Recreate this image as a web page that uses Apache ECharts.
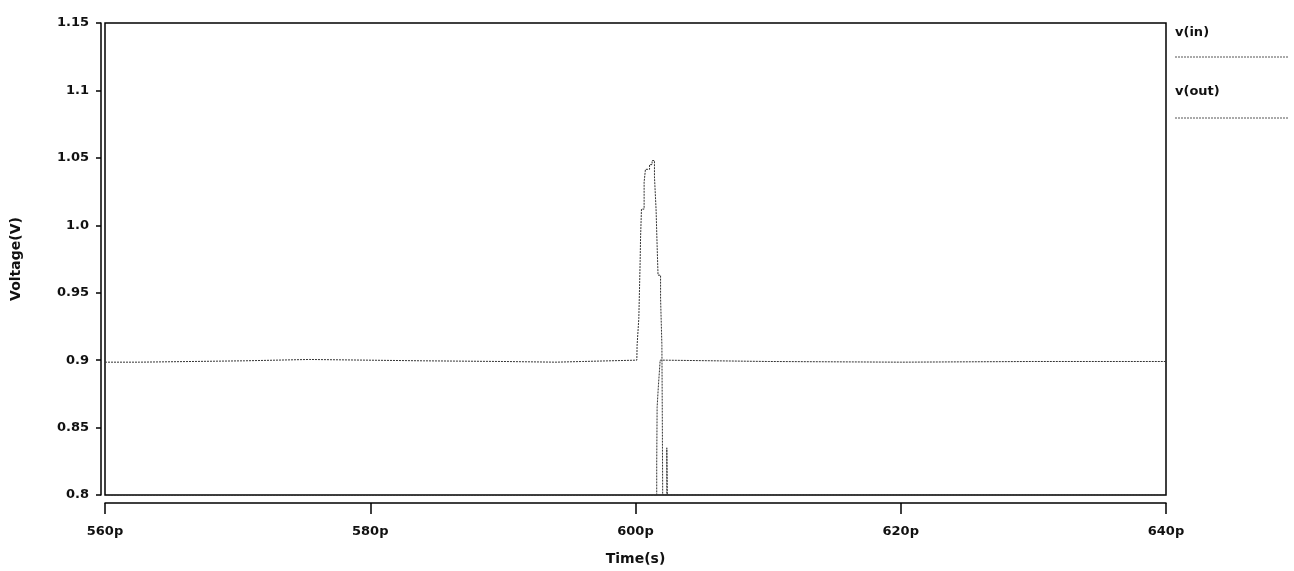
<!DOCTYPE html>
<html>
<head>
<meta charset="utf-8">
<script src="https://cdn.jsdelivr.net/npm/echarts@6/dist/echarts.min.js"></script>
<style>
  html, body { margin: 0; padding: 0; background: #fff; }
  #chart { width: 1294px; height: 571px; }
</style>
</head>
<body>
<div id="chart"></div>
<script>
// transient sim: v(in) / v(out), time in ps
const inTime = [560, 562.6, 570.5, 575.4, 584, 590, 594, 596, 600.1,
  600.12, 600.25, 600.3, 600.35, 600.38, 600.45, 600.65, 600.75, 601.06, 601.25,
  601.43, 601.55, 601.63, 601.7, 601.89, 601.99, 602.02, 602.05, 602.36, 602.4, 640];
const inVolt = [0.8985, 0.8995, 0.9005, 0.8995, 0.899, 0.8985, 0.899, 0.9, 0.9,
  0.911, 0.931, 0.952, 0.973, 0.99, 1.012, 1.032, 1.0415, 1.045, 1.048,
  1.036, 1.012, 0.985, 0.963, 0.946, 0.911, 0.86, 0.8, 0.835, 0.8, 0.8];

const outTime = [560, 601.6, 601.63, 601.72, 601.86, 602.03, 602.1, 610, 620, 630, 640];
const outVolt = [0.7995, 0.823, 0.865, 0.88, 0.9, 0.899, 0.899, 0.8985, 0.899, 0.899, 0.899];

const seriesNames = ['v(in)', 'v(out)'];

const FONT = 'DejaVu Sans';
const pairs = (xs, ys) => xs.map((x, i) => [x, ys[i]]);

// 1.10 -> 1.1, 1.00 -> 1.0, 0.80 -> 0.8
const fmtVolt = v => {
  let s = v.toFixed(2);
  if (s.endsWith('0')) s = s.slice(0, -1);
  return s;
};

const labelFont = { fontFamily: FONT, fontSize: 13, fontWeight: 'bold', color: '#111' };
const nameFont = { fontFamily: FONT, fontSize: 14, fontWeight: 'bold', color: '#111' };
const traceStyle = { color: '#333', width: 1, type: [2, 1] };

const chart = echarts.init(document.getElementById('chart'));
chart.setOption({
  animation: false,
  backgroundColor: '#fff',
  grid: {
    left: 105, right: 128, top: 23, bottom: 72,
    show: true, borderColor: '#000', borderWidth: 1.5
  },
  xAxis: {
    type: 'value', min: 560, max: 640, interval: 20,
    offset: 8,
    name: 'Time(s)', nameLocation: 'middle', nameGap: 49,
    nameTextStyle: nameFont,
    axisLine: { show: true, lineStyle: { color: '#000', width: 1.5 } },
    axisTick: { show: true, inside: false, length: 11, lineStyle: { color: '#000', width: 1.5 } },
    axisLabel: Object.assign({ formatter: v => v + 'p', margin: 22 }, labelFont),
    splitLine: { show: false }
  },
  yAxis: {
    type: 'value', min: 0.8, max: 1.15, interval: 0.05,
    offset: 4,
    name: 'Voltage(V)', nameLocation: 'middle', nameGap: 78,
    nameTextStyle: nameFont,
    axisLine: { show: true, lineStyle: { color: '#000', width: 1.5 } },
    axisTick: { show: true, inside: false, length: 5, lineStyle: { color: '#000', width: 1.5 } },
    axisLabel: Object.assign({ formatter: fmtVolt, margin: 12 }, labelFont),
    splitLine: { show: false }
  },
  graphic: [
    { type: 'text', left: 1175, top: 26, style: { text: seriesNames[0], font: 'bold 13px ' + FONT, fill: '#111' } },
    { type: 'line', shape: { x1: 1175, y1: 57, x2: 1288, y2: 57 }, style: { stroke: '#555', lineWidth: 1, lineDash: [2, 1] } },
    { type: 'text', left: 1175, top: 85, style: { text: seriesNames[1], font: 'bold 13px ' + FONT, fill: '#111' } },
    { type: 'line', shape: { x1: 1175, y1: 118, x2: 1288, y2: 118 }, style: { stroke: '#555', lineWidth: 1, lineDash: [2, 1] } }
  ],
  series: [
    { name: seriesNames[0], type: 'line', step: 'end', showSymbol: false, data: pairs(inTime, inVolt), lineStyle: traceStyle },
    { name: seriesNames[1], type: 'line', step: 'end', showSymbol: false, data: pairs(outTime, outVolt), lineStyle: traceStyle }
  ]
});
</script>
</body>
</html>
